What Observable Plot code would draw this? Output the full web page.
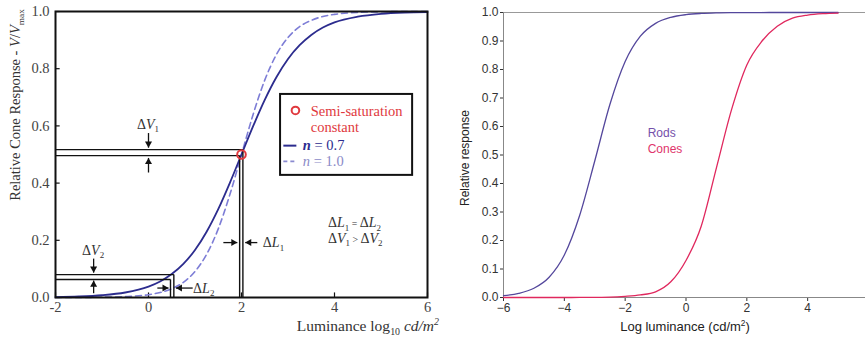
<!DOCTYPE html>
<html><head><meta charset="utf-8">
<script src="https://cdn.jsdelivr.net/npm/d3@7"></script>
<script src="https://cdn.jsdelivr.net/npm/@observablehq/plot@0.6"></script>
<style>
html,body{margin:0;padding:0;background:#fff;overflow:hidden}
#wrap{position:relative;width:865px;height:337px;overflow:hidden;background:#fff}
#left{position:absolute;left:0;top:0;width:440px;height:337px}
#right{position:absolute;left:440px;top:0;width:430px;height:337px}
</style></head><body><div id="wrap"><div id="left"></div><div id="right"></div></div>
<script>
// ---------- Left panel data: relative cone response vs log luminance ----------
const lumLog = [-2,-1.5,-1,-0.5,0,0.25,0.5,0.75,1,1.25,1.5,1.75,2,2.25,2.5,2.75,3,3.25,3.5,3.75,4,4.5,5,5.5,6];
const respN07 = [0.0016,0.0035,0.0079,0.0175,0.0383,0.0562,0.082,0.1176,0.166,0.230,0.309,0.401,0.5,0.599,0.691,0.770,0.834,0.882,0.918,0.944,0.962,0.982,0.992,0.9965,0.998];
const respN10 = [0.0001,0.0003,0.001,0.0032,0.0099,0.0175,0.0307,0.0532,0.0909,0.151,0.240,0.360,0.5,0.640,0.760,0.849,0.909,0.947,0.969,0.9825,0.990,0.997,0.999,0.9997,0.9999];
const semiSatLum = [2];
const semiSatResp = [0.5];
const leftXTicks = [-2,0,2,4,6];
const leftYTicks = [0,0.2,0.4,0.6,0.8,1.0];

// ---------- Right panel data: rods & cones ----------
const logLum = [-6,-5.5,-5,-4.5,-4,-3.5,-3,-2.5,-2,-1.5,-1,-0.5,0,0.5,1,1.5,2,2.5,3,3.5,4,4.5,5];
const rods  = [0.0063,0.0144,0.0324,0.0711,0.149,0.287,0.479,0.678,0.828,0.917,0.962,0.983,0.9925,0.9967,0.9986,0.9994,0.9997,0.9999,1,1,1,1,1];
const cones = [0,0,0,0,0,0.0002,0.0005,0.0012,0.004,0.009,0.02,0.055,0.13,0.25,0.455,0.66,0.816,0.9,0.952,0.98,0.991,0.996,0.998];
const rightXTicks = [-6,-4,-2,0,2,4,6];
const rightYTicks = [0,0.1,0.2,0.3,0.4,0.5,0.6,0.7,0.8,0.9,1.0];

// ---------- Left annotation geometry (data units) ----------
const boxSegments = [ // x1,y1,x2,y2
  [-2,0.517,2.03,0.517],[-2,0.496,1.96,0.496],[1.96,0,1.96,0.496],[2.03,0,2.03,0.517],
  [-2,0.080,0.545,0.080],[-2,0.063,0.473,0.063],[0.473,0,0.473,0.063],[0.545,0,0.545,0.080]
];
const vArrows = [ // x, yFrom, yTip, dir
  [0,0.575,0.524,"down"],[0,0.437,0.488,"up"],[-1.18,0.136,0.087,"down"],[-1.18,0.015,0.059,"up"]
];
const hArrows = [ // y, xFrom, xTip, dir
  [0.192,1.61,1.91,"right"],[0.192,2.34,2.08,"left"],[0.033,0.19,0.43,"right"],[0.033,0.95,0.59,"left"]
];
const legendBox = [[2.84,0.427,5.68,0.71]];

const serif = "'Liberation Serif','Times New Roman',serif";
const sans = "'Liberation Sans',Arial,Helvetica,sans-serif";

const n07 = lumLog.map((x,i)=>({x, y: respN07[i]}));
const n10 = lumLog.map((x,i)=>({x, y: respN10[i]}));
const segs = boxSegments.map(([x1,y1,x2,y2])=>({x1,y1,x2,y2}));
const va = vArrows.map(([x,y1,y2,d])=>({x,y1,y2,d}));
const ha = hArrows.map(([y,x1,x2,d])=>({y,x1,x2,d}));
const rotOf = {up:0, down:180, right:90, left:-90};
const headOff = 4;

function heads(data, dir, isV) {
  const sub = data.filter(d=>d.d===dir);
  const opts = {symbol:"triangle", r:2.6, fill:"#111", stroke:null, rotate: rotOf[dir]};
  if (dir==="down") opts.dy = -headOff; if (dir==="up") opts.dy = headOff;
  if (dir==="right") opts.dx = -headOff; if (dir==="left") opts.dx = headOff;
  return isV ? Plot.dot(sub, {x:"x", y:"y2", ...opts}) : Plot.dot(sub, {x:"x2", y:"y", ...opts});
}

const left = Plot.plot({
  width: 440, height: 337,
  marginLeft: 55, marginRight: 13, marginTop: 11, marginBottom: 40,
  style: {fontFamily: serif, fontSize: "14.5px", color: "#444", background: "transparent", maxWidth: "none"},
  x: {domain: [-2,6], ticks: leftXTicks, tickFormat: d=>String(d), tickSize: 0, tickPadding: 4, label: null},
  y: {domain: [0,1], ticks: leftYTicks, tickFormat: d3.format(".1f"), tickSize: 0, tickPadding: 6, label: null},
  marks: [
    Plot.ruleX(leftXTicks, {y1: 0, y2: 0.016, stroke: "#111", strokeWidth: 1.2}),
    Plot.ruleY(leftYTicks, {x1: -2, x2: -1.9, stroke: "#111", strokeWidth: 1.2}),
    Plot.line(n10, {x:"x", y:"y", stroke:"#7d7dd6", strokeWidth:1.6, strokeDasharray:"6,4", curve:"monotone-x"}),
    Plot.line(n07, {x:"x", y:"y", stroke:"#2c2c8e", strokeWidth:1.8, curve:"monotone-x"}),
    Plot.link(segs, {x1:"x1", y1:"y1", x2:"x2", y2:"y2", stroke:"#111", strokeWidth:1.4}),
    Plot.link(va, {x1:"x", x2:"x", y1:"y1", y2:"y2", stroke:"#111", strokeWidth:1.3}),
    Plot.link(ha, {y1:"y", y2:"y", x1:"x1", x2:"x2", stroke:"#111", strokeWidth:1.3}),
    heads(va,"down",true), heads(va,"up",true), heads(ha,"right",false), heads(ha,"left",false),
    Plot.dot(semiSatLum.map((x,i)=>({x, y: semiSatResp[i]})), {x:"x", y:"y", r:4.3, stroke:"#e0393e", strokeWidth:2, fill:"none"}),
    Plot.rect(legendBox, {x1:d=>d[0], y1:d=>d[1], x2:d=>d[2], y2:d=>d[3], fill:"white", stroke:"#111", strokeWidth:2}),
    Plot.dot([[3.16,0.654]], {x:d=>d[0], y:d=>d[1], r:3.8, stroke:"#e0393e", strokeWidth:2, fill:"none"}),
    Plot.link([[2.90,0.531,3.18]], {x1:d=>d[0], x2:d=>d[2], y1:d=>d[1], y2:d=>d[1], stroke:"#2c2c8e", strokeWidth:2}),
    Plot.link([[2.90,0.476,3.18]], {x1:d=>d[0], x2:d=>d[2], y1:d=>d[1], y2:d=>d[1], stroke:"#8a8ad0", strokeWidth:1.8, strokeDasharray:"4,3"}),
    Plot.frame({stroke:"#111", strokeWidth:2})
  ]
});
document.getElementById("left").appendChild(left);

const right = Plot.plot({
  width: 430, height: 337,
  marginLeft: 63, marginRight: 2, marginTop: 12, marginBottom: 40,
  style: {fontFamily: sans, fontSize: "12px", color: "#333", background: "transparent", maxWidth: "none"},
  x: {domain: [-6,6], ticks: rightXTicks, tickSize: 4, tickPadding: 2, label: null},
  y: {domain: [0,1], ticks: rightYTicks, tickFormat: d3.format(".1f"), tickSize: 3, tickPadding: 2, label: null},
  marks: [
    Plot.ruleY([0], {stroke:"#888"}),
    Plot.ruleY([1], {stroke:"#999"}),
    Plot.ruleX([-6], {stroke:"#888"}),
    Plot.line(logLum.map((x,i)=>({x, y: rods[i]})), {x:"x", y:"y", stroke:"#54479c", strokeWidth:1.3, curve:"monotone-x"}),
    Plot.line(logLum.map((x,i)=>({x, y: cones[i]})), {x:"x", y:"y", stroke:"#e0285e", strokeWidth:1.3, curve:"monotone-x"}),
    Plot.text(["Rods"], {x: -1.26, y: 0.575, text: d=>d, textAnchor:"start", fill:"#7550ab", fontSize: 12}),
    Plot.text(["Cones"], {x: -1.26, y: 0.519, text: d=>d, textAnchor:"start", fill:"#e0356c", fontSize: 12})
  ]
});
document.getElementById("right").appendChild(right);

// ---------- rich text helper ----------
function richText(svg, o, parts) {
  const size = o.size;
  const t = d3.select(svg).append("text")
    .attr("x", o.x).attr("y", o.y).attr("text-anchor", o.anchor || "start")
    .attr("font-family", o.family).attr("font-size", size).attr("fill", o.fill || "#333");
  if (o.rotate) t.attr("transform", `rotate(-90,${o.x},${o.y})`);
  let shift = 0;
  for (const p of parts) {
    const s = t.append("tspan").text(p.t);
    if (p.italic) s.attr("font-style", "italic");
    if (p.bold) s.attr("font-weight", "bold");
    const ns = p.sub ? size*0.25 : p.sup ? -size*0.38 : 0;
    if (p.sub || p.sup) s.attr("font-size", size*0.64);
    else if (p.small) s.attr("font-size", size*p.small);
    if (ns !== shift) { s.attr("dy", ns - shift); shift = ns; }
    if (p.fill) s.attr("fill", p.fill);
  }
  return t;
}

const lx = left.scale("x"), ly = left.scale("y");
const X = v => lx.apply(v), Y = v => ly.apply(v);
const dV = n => [{t:"Δ"},{t:"V",italic:true},{t:n,sub:true}];
const dL = n => [{t:"Δ"},{t:"L",italic:true},{t:n,sub:true}];
const ts = {family: serif, size: 14, fill: "#333"};

richText(left, {...ts, x: X(0), y: Y(0.605)+5, anchor:"middle"}, dV("1"));
richText(left, {...ts, x: X(-1.18), y: Y(0.165)+5, anchor:"middle"}, dV("2"));
richText(left, {...ts, x: X(2.47), y: Y(0.192)+5}, dL("1"));
richText(left, {...ts, x: X(0.97), y: Y(0.033)+5}, dL("2"));
richText(left, {...ts, x: X(3.87), y: Y(0.262)+5}, [...dL("1"), {t:" = ", small:0.7}, ...dL("2")]);
richText(left, {...ts, x: X(3.87), y: Y(0.208)+5}, [...dV("1"), {t:" > ", small:0.7}, ...dV("2")]);

// legend texts
richText(left, {family: serif, size: 14.5, fill: "#e0393e", x: X(3.5), y: Y(0.650)+5}, [{t:"Semi-saturation"}]);
richText(left, {family: serif, size: 14.5, fill: "#e0393e", x: X(3.5), y: Y(0.594)+5}, [{t:"constant"}]);
richText(left, {family: serif, size: 14.5, fill: "#2c2c8e", x: X(3.33), y: Y(0.531)+5}, [{t:"n",italic:true,bold:true},{t:" = 0.7"}]);
richText(left, {family: serif, size: 14.5, fill: "#8a8ac8", x: X(3.33), y: Y(0.476)+5}, [{t:"n",italic:true},{t:" = 1.0"}]);

// axis labels left
richText(left, {family: serif, size: 15.5, fill: "#333", x: 439, y: 331, anchor: "end"},
  [{t:"Luminance log"},{t:"10",sub:true},{t:" "},{t:"cd/m",italic:true},{t:"2",sup:true,italic:true}]);
richText(left, {family: serif, size: 14.5, fill: "#333", x: 20, y: 105, anchor: "middle", rotate: true},
  [{t:"Relative Cone Response - "},{t:"V",italic:true},{t:"/"},{t:"V",italic:true},{t:"max",sub:true}]);

// axis labels right
richText(right, {family: sans, size: 12, fill: "#222", x: 29, y: 158, anchor: "middle", rotate: true},
  [{t:"Relative response"}]);
richText(right, {family: sans, size: 13, fill: "#222", x: 245, y: 331, anchor: "middle"},
  [{t:"Log luminance (cd/m"},{t:"2",sup:true},{t:")"}]);
</script>
</body></html>
